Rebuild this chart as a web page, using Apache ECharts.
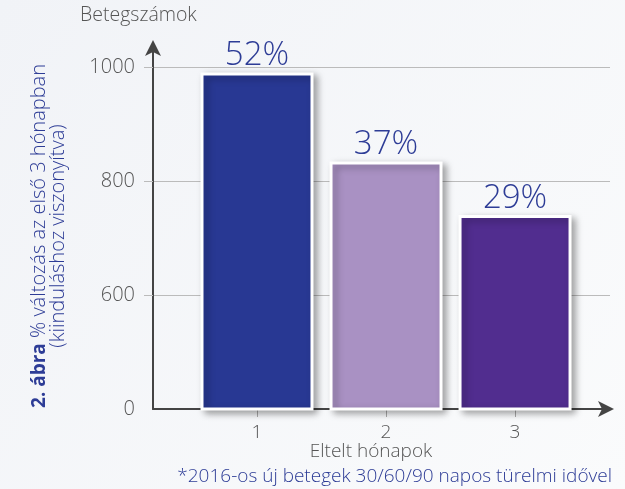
<!DOCTYPE html>
<html>
<head>
<meta charset="utf-8">
<script src="https://cdn.jsdelivr.net/npm/echarts@6/dist/echarts.min.js"></script>
<style>
  html, body { margin: 0; padding: 0; }
  #chart { width: 625px; height: 489px; }
</style>
</head>
<body>
<div id="chart"></div>
<script>
const months = [1, 2, 3];
const patients = [990, 834, 740];
const pctLabels = ["52%", "37%", "29%"];
const barColors = ["#283893", "#A991C3", "#512D8F"];
const yTicks = [400, 600, 800, 1000];
const yTickText = ["0", "600", "800", "1000"];

const FONT = "'Open Sans', Lato, sans-serif";
const GREY = "#555";
const BLUE = "#2D3C96";

const chart = echarts.init(document.getElementById("chart"));

const option = {
  backgroundColor: {
    type: "linear", x: 0, y: 0, x2: 1, y2: 1,
    colorStops: [
      { offset: 0, color: "#F1F3F7" },
      { offset: 1, color: "#FAFBFC" },
    ],
  },
  grid: { left: 153, right: 15, top: 44, bottom: 80 },
  xAxis: {
    type: "value",
    min: 0.194,
    max: 3.736,
    splitLine: { show: false },
    axisLine: {
      show: true,
      lineStyle: { color: "#444", width: 2 },
      symbol: ["none", "arrow"],
      symbolSize: [12, 16],
      symbolOffset: [0, 4],
    },
    axisTick: {
      show: true,
      customValues: months,
      length: 8,
      lineStyle: { color: "#AAA" },
    },
    axisLabel: {
      customValues: months,
      margin: 14,
      color: GREY,
      fontSize: 19,
      fontWeight: 300,
      fontFamily: FONT,
    },
  },
  yAxis: {
    type: "value",
    min: 400,
    max: 1040,
    interval: 200,
    axisLine: {
      show: true,
      lineStyle: { color: "#444", width: 2 },
      symbol: ["none", "arrow"],
      symbolSize: [12, 16],
      symbolOffset: [0, 4],
    },
    axisTick: {
      show: true,
      customValues: yTicks.slice(1),
      length: 9,
      lineStyle: { color: "#BBB" },
    },
    splitLine: {
      show: true,
      lineStyle: { color: "#BBB", width: 1 },
    },
    axisLabel: {
      customValues: yTicks,
      margin: 18,
      color: GREY,
      fontSize: 20,
      fontWeight: 300,
      fontFamily: FONT,
      formatter: (v) => yTickText[yTicks.indexOf(v)] ?? "",
    },
  },
  series: [
    {
      type: "bar",
      barWidth: 113,
      data: months.map((m, i) => ({
        value: [m, patients[i]],
        itemStyle: { color: barColors[i] },
        label: { formatter: pctLabels[i] },
      })),
      itemStyle: {
        borderColor: "#FFFFFF",
        borderWidth: 3,
        shadowBlur: 7,
        shadowOffsetX: 4,
        shadowOffsetY: 3,
        shadowColor: "rgba(0,0,0,0.35)",
      },
      label: {
        show: true,
        position: "top",
        distance: 0,
        color: BLUE,
        fontSize: 33,
        fontWeight: 300,
        fontFamily: FONT,
      },
      z: 3,
    },
  ],
  graphic: [
    {
      type: "text",
      left: 80,
      top: 5,
      style: { text: "Betegszámok", fill: GREY, fontSize: 19.5, fontWeight: 300, fontFamily: FONT },
    },
    {
      type: "text",
      x: 371,
      y: 452,
      style: {
        text: "Eltelt hónapok",
        fill: GREY,
        fontSize: 19,
        fontWeight: 300,
        fontFamily: FONT,
        align: "center",
        verticalAlign: "middle",
      },
    },
    {
      type: "text",
      x: 612,
      y: 477,
      style: {
        text: "*2016-os új betegek 30/60/90 napos türelmi idővel",
        fill: BLUE,
        fontSize: 19,
        fontWeight: 300,
        fontFamily: FONT,
        align: "right",
        verticalAlign: "middle",
      },
    },
    {
      type: "text",
      x: 49,
      y: 236,
      rotation: Math.PI / 2,
      style: {
        text: "{b|2. ábra} % változás az első 3 hónapban\n(kiinduláshoz viszonyítva)",
        fill: BLUE,
        fontSize: 20,
        fontWeight: 300,
        fontFamily: FONT,
        lineHeight: 19,
        align: "center",
        verticalAlign: "middle",
        rich: {
          b: { fontWeight: "bold", fill: BLUE, fontSize: 19, fontFamily: FONT },
        },
      },
    },
  ],
};

chart.setOption(option);
</script>
</body>
</html>
